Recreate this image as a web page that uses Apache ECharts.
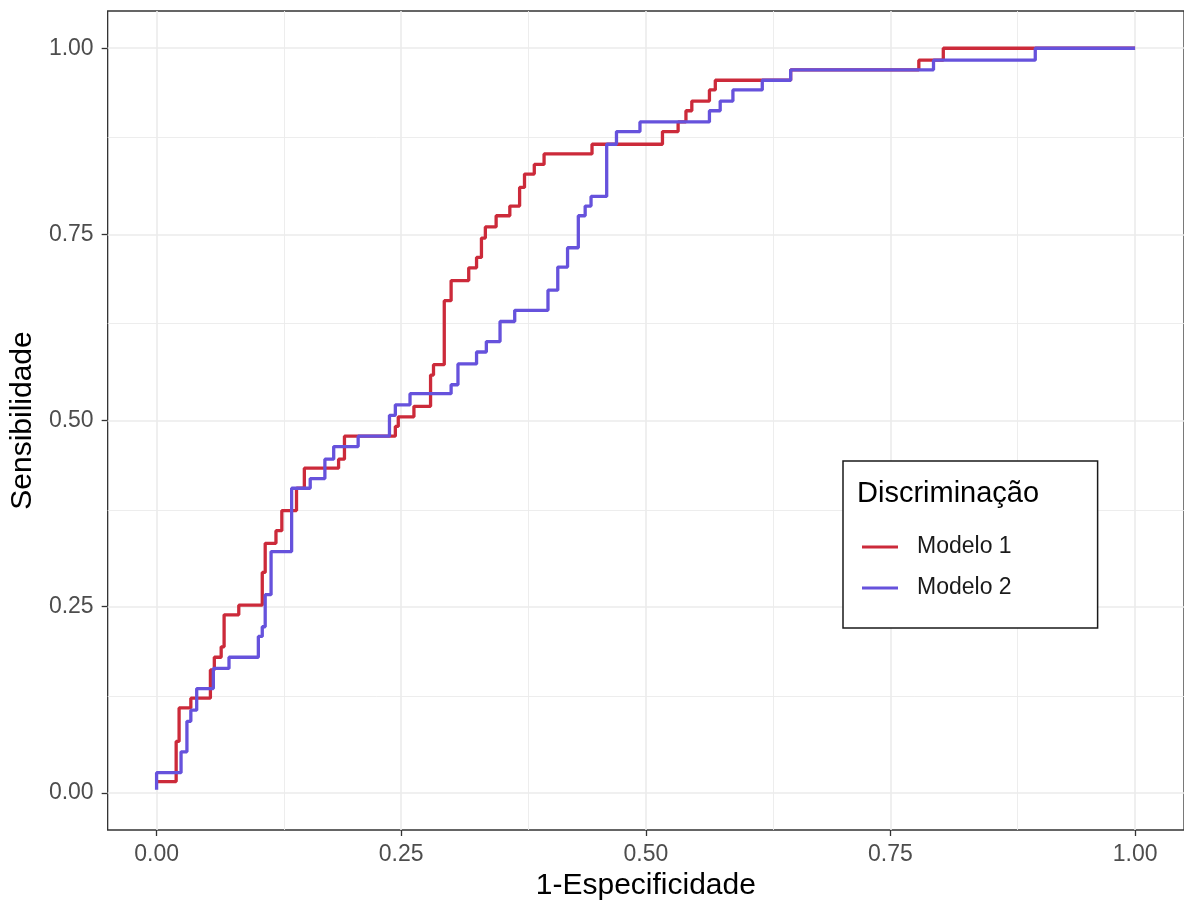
<!DOCTYPE html>
<html>
<head>
<meta charset="utf-8">
<script src="https://cdn.jsdelivr.net/npm/echarts@6/dist/echarts.min.js"></script>
<style>
  html, body { margin: 0; padding: 0; background: #fff; }
  #chart { width: 1184px; height: 906px; }
</style>
</head>
<body>
<div id="chart"></div>
<script>
// ROC corners: each point is reached by a horizontal then a vertical move
const fpr1 = [0, 0.020, 0.023, 0.035, 0.055, 0.059, 0.066, 0.069, 0.084, 0.108, 0.111, 0.122, 0.128, 0.143, 0.151, 0.186, 0.192,
  0.244, 0.247, 0.263, 0.280, 0.283, 0.294, 0.301, 0.319, 0.327, 0.332, 0.336, 0.347, 0.361, 0.371, 0.376, 0.386, 0.396,
  0.445, 0.517, 0.533, 0.541, 0.547, 0.565, 0.571, 0.648, 0.779, 0.804, 1.0];
const tpr1 = [0.015, 0.069, 0.114, 0.127, 0.165, 0.182, 0.196, 0.239, 0.252, 0.296, 0.335, 0.352, 0.379, 0.409, 0.436, 0.448, 0.479,
  0.492, 0.505, 0.519, 0.561, 0.575, 0.661, 0.688, 0.705, 0.719, 0.745, 0.760, 0.775, 0.788, 0.813, 0.831, 0.844, 0.858,
  0.871, 0.888, 0.901, 0.916, 0.929, 0.944, 0.957, 0.971, 0.984, 1.0, 1.0];

const fpr2 = [0, 0, 0.025, 0.031, 0.035, 0.041, 0.058, 0.074, 0.104, 0.108, 0.111, 0.117, 0.138, 0.157, 0.172, 0.181, 0.206,
  0.238, 0.244, 0.259, 0.301, 0.308, 0.327, 0.337, 0.351, 0.366, 0.400, 0.410, 0.420, 0.431, 0.438, 0.444, 0.460, 0.470,
  0.494, 0.565, 0.576, 0.589, 0.619, 0.648, 0.794, 0.898, 1.0];
const tpr2 = [0.004, 0.027, 0.055, 0.096, 0.111, 0.140, 0.167, 0.182, 0.210, 0.223, 0.266, 0.324, 0.409, 0.422, 0.448, 0.465, 0.479,
  0.507, 0.521, 0.536, 0.548, 0.576, 0.592, 0.606, 0.633, 0.648, 0.675, 0.706, 0.732, 0.775, 0.788, 0.801, 0.871, 0.888,
  0.901, 0.916, 0.929, 0.944, 0.957, 0.971, 0.984, 1.0, 1.0];

const majorBreaks = [0, 0.25, 0.5, 0.75, 1];
const minorBreaks = [0.125, 0.375, 0.625, 0.875];
const seriesNames = ['Modelo 1', 'Modelo 2'];
const colors = ['#CC2A3A', '#6652DC'];

const font = 'Liberation Sans, Arial, sans-serif';

function pairs(xs, ys) {
  return xs.map((x, i) => [x, ys[i]]);
}

function gridLines(breaks, width) {
  const out = [];
  breaks.forEach(b => {
    out.push({xAxis: b, lineStyle: {width: width}});
    out.push({yAxis: b, lineStyle: {width: width}});
  });
  return out;
}

const chart = echarts.init(document.getElementById('chart'));

const axisCommon = {
  type: 'value',
  min: -0.05,
  max: 1.05,
  splitLine: {show: false},
  axisLine: {show: false, onZero: false},
  axisTick: {
    show: true,
    customValues: majorBreaks,
    length: 6,
    lineStyle: {color: '#333333', width: 1.3}
  },
  axisLabel: {
    customValues: majorBreaks,
    formatter: v => v.toFixed(2),
    color: '#4D4D4D',
    fontFamily: font,
    fontSize: 23
  },
  nameLocation: 'middle',
  nameTextStyle: {color: '#000', fontFamily: font, fontSize: 30}
};

chart.setOption({
  animation: false,
  title: {
    text: 'Discriminação',
    left: 857,
    top: 479,
    padding: 0,
    textStyle: {color: '#000', fontFamily: font, fontSize: 29, fontWeight: 'normal'}
  },
  grid: {
    left: 107,
    right: -2,
    top: 11,
    bottom: 76,
    show: true,
    borderColor: '#333333',
    borderWidth: 1.3,
    backgroundColor: '#fff'
  },
  legend: {
    data: seriesNames,
    orient: 'vertical',
    left: 843,
    top: 461,
    padding: [74, 86, 28, 19],
    icon: 'rect',
    itemWidth: 36,
    itemHeight: 3,
    itemGap: 17,
    borderColor: '#1a1a1a',
    borderWidth: 1.5,
    backgroundColor: '#fff',
    textStyle: {
      color: '#1a1a1a',
      fontFamily: font,
      fontSize: 23,
      lineHeight: 24,
      padding: [0, 0, 0, 14]
    }
  },
  xAxis: Object.assign({}, axisCommon, {
    name: '1-Especificidade',
    nameGap: 38,
    axisLabel: Object.assign({}, axisCommon.axisLabel, {margin: 13})
  }),
  yAxis: Object.assign({}, axisCommon, {
    name: 'Sensibilidade',
    nameGap: 65,
    axisLabel: Object.assign({}, axisCommon.axisLabel, {margin: 14})
  }),
  series: [
    {
      name: 'grid',
      type: 'line',
      data: [],
      silent: true,
      markLine: {
        silent: true,
        symbol: 'none',
        z: 1,
        label: {show: false},
        lineStyle: {color: '#EBEBEB', type: 'solid'},
        data: gridLines(majorBreaks, 1.6).concat(gridLines(minorBreaks, 0.9))
      }
    },
    {
      name: seriesNames[0],
      type: 'line',
      step: 'end',
      symbol: 'none',
      color: colors[0],
      lineStyle: {width: 3.3, color: colors[0]},
      z: 3,
      data: pairs(fpr1, tpr1)
    },
    {
      name: seriesNames[1],
      type: 'line',
      step: 'end',
      symbol: 'none',
      color: colors[1],
      lineStyle: {width: 3.3, color: colors[1]},
      z: 4,
      data: pairs(fpr2, tpr2)
    }
  ]
});
</script>
</body>
</html>
